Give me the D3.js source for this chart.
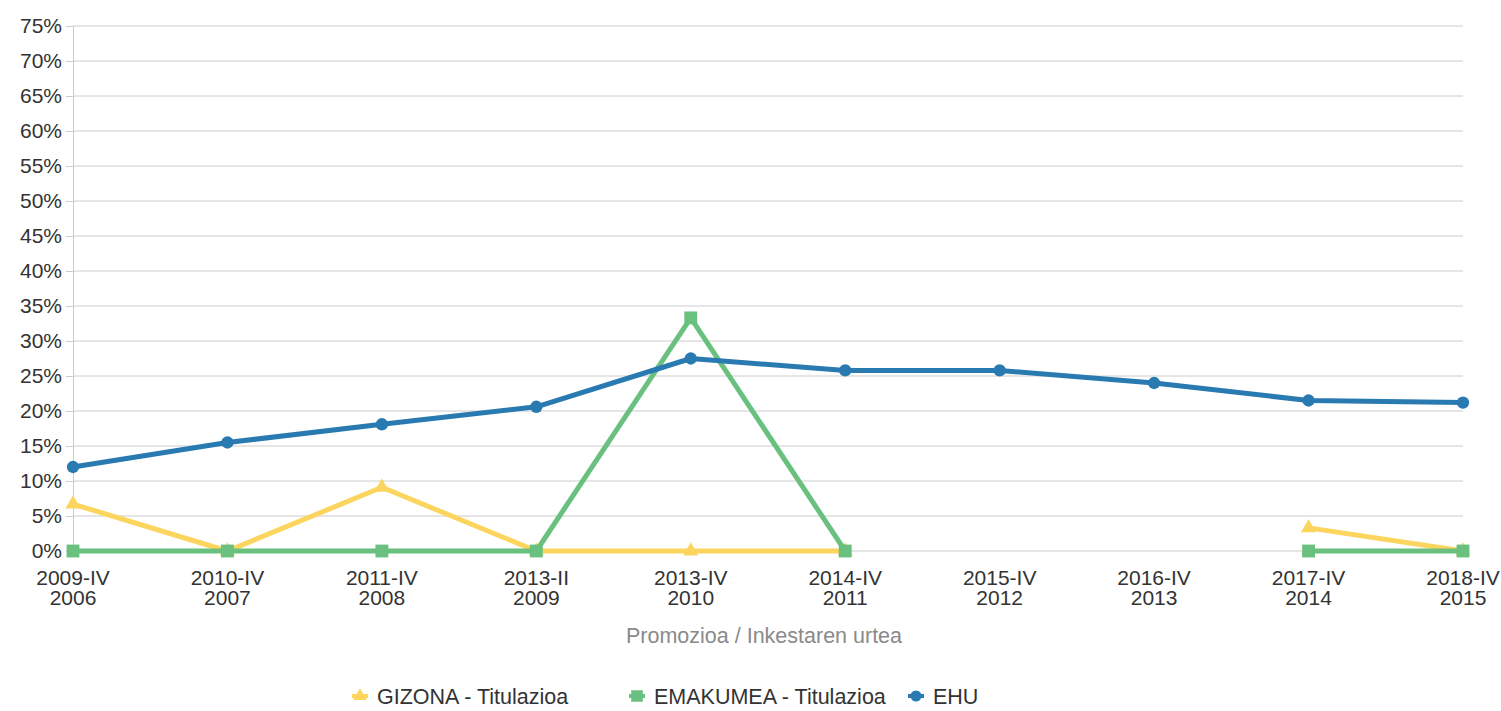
<!DOCTYPE html>
<html>
<head>
<meta charset="utf-8">
<script src="https://cdn.jsdelivr.net/npm/d3@7"></script>
<style>
  body { margin: 0; background: #fff; font-family: "Liberation Sans", Arial, sans-serif; }
  svg text { fill: #333; font-family: "Liberation Sans", Arial, sans-serif; }
</style>
</head>
<body>
<svg id="chart" width="1501" height="711"></svg>
<script>
const categories = ['2009-IV|2006', '2010-IV|2007', '2011-IV|2008', '2013-II|2009', '2013-IV|2010',
                    '2014-IV|2011', '2015-IV|2012', '2016-IV|2013', '2017-IV|2014', '2018-IV|2015'];
const gizona = [6.7, 0, 9.1, 0, 0, 0, null, null, 3.3, 0];
const emakumea = [0, 0, 0, 0, 33.3, 0, null, null, 0, 0];
const ehu = [12.0, 15.5, 18.1, 20.6, 27.5, 25.8, 25.8, 24.0, 21.5, 21.2];
const yTicks = d3.range(0, 80, 5);

const series = [
  { name: 'GIZONA - Titulazioa', values: gizona, color: '#fbd55e', symbol: d3.symbolTriangle, size: 100 },
  { name: 'EMAKUMEA - Titulazioa', values: emakumea, color: '#69c07f', symbol: d3.symbolSquare, size: 165 },
  { name: 'EHU', values: ehu, color: '#2a7ab2', symbol: d3.symbolCircle, size: 120 }
];

const svg = d3.select('#chart');
const x = d3.scalePoint().domain(categories).range([73, 1463]);
const y = d3.scaleLinear().domain([0, 75]).range([551, 26]);

// grid
svg.append('g')
   .selectAll('line')
   .data(yTicks)
   .join('line')
   .attr('x1', 73).attr('x2', 1463)
   .attr('y1', d => y(d)).attr('y2', d => y(d))
   .attr('stroke', '#cccccc').attr('stroke-width', 1);

// y axis
const yAxis = svg.append('g')
   .attr('transform', 'translate(73,0)')
   .call(d3.axisLeft(y).tickValues(yTicks).tickFormat(d => d + '%').tickSize(7).tickPadding(4));
yAxis.select('.domain').attr('stroke', '#cccccc');
yAxis.selectAll('.tick line').attr('stroke', '#cccccc');
yAxis.selectAll('text')
   .attr('font-family', null)
   .style('font-size', '21px').style('fill', '#333');

// x axis labels
const xl = svg.append('g')
   .selectAll('text')
   .data(categories)
   .join('text')
   .attr('x', d => x(d))
   .attr('text-anchor', 'middle')
   .style('font-size', '21px');
xl.append('tspan').attr('x', d => x(d)).attr('y', 585).text(d => d.split('|')[0]);
xl.append('tspan').attr('x', d => x(d)).attr('y', 605).text(d => d.split('|')[1]);

svg.append('text')
   .attr('x', 764).attr('y', 643)
   .attr('text-anchor', 'middle')
   .style('font-size', '21.5px')
   .style('fill', '#8a8a8a')
   .text('Promozioa / Inkestaren urtea');

// lines
const line = d3.line()
   .defined(d => d.v !== null)
   .x(d => x(d.c))
   .y(d => y(d.v));

series.forEach(s => {
  const pts = categories.map((c, i) => ({ c: c, v: s.values[i] }));
  svg.append('path')
     .datum(pts)
     .attr('fill', 'none')
     .attr('stroke', s.color)
     .attr('stroke-width', 5)
     .attr('stroke-linejoin', 'round')
     .attr('d', line);
  svg.append('g')
     .selectAll('path')
     .data(pts.filter(d => d.v !== null))
     .join('path')
     .attr('transform', d => 'translate(' + x(d.c) + ',' + y(d.v) + ')')
     .attr('d', d3.symbol().type(s.symbol).size(s.size))
     .attr('fill', s.color);
});

// legend
const legendX = [360, 637, 916];
const lg = svg.append('g')
   .selectAll('g')
   .data(series)
   .join('g')
   .attr('transform', (d, i) => 'translate(' + legendX[i] + ',696)');
lg.append('line')
  .attr('x1', -8).attr('x2', 8)
  .attr('stroke', d => d.color).attr('stroke-width', 4);
lg.append('path')
  .attr('d', d => d3.symbol().type(d.symbol).size(d.size * 0.8)())
  .attr('fill', d => d.color);
lg.append('text')
  .attr('x', 17).attr('y', 8)
  .style('font-size', '21.5px')
  .text(d => d.name);
</script>
</body>
</html>
